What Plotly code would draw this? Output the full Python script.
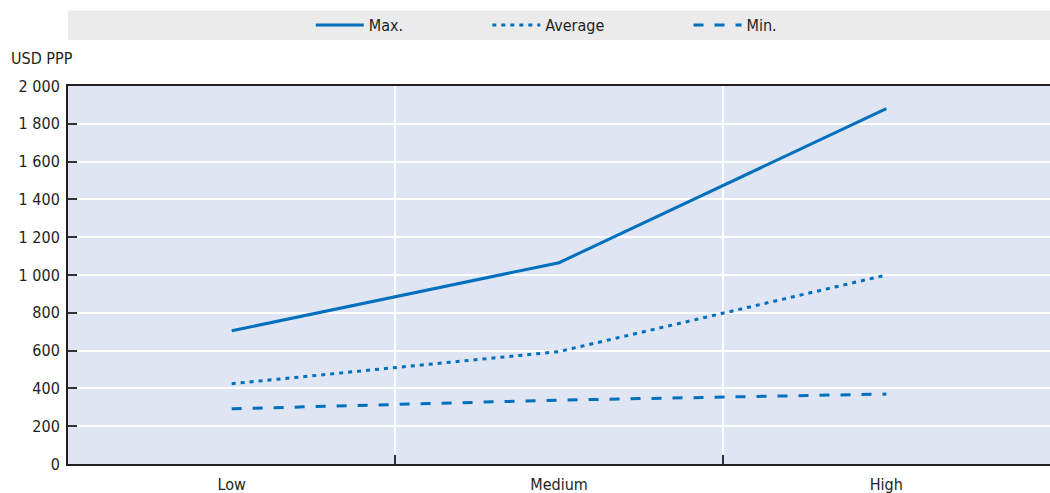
import plotly.graph_objects as go

categories = ["Low", "Medium", "High"]
max_vals = [705, 1065, 1880]
avg_vals = [425, 595, 1000]
min_vals = [292, 338, 370]
series_names = ["Max.", "Average", "Min."]

FONT = "DejaVu Sans Condensed, Liberation Sans Narrow, Arial Narrow, Roboto"
BLUE = "#0070BD"
TXT = "#231F20"
PAD = "\u2003" * 5 + "\u2002"  # spacing between legend entries

fig = go.Figure()
fig.add_trace(go.Scatter(x=categories, y=max_vals, name=series_names[0] + PAD, mode="lines",
                         line=dict(color=BLUE, width=3)))
fig.add_trace(go.Scatter(x=categories, y=avg_vals, name=series_names[1] + PAD, mode="lines",
                         line=dict(color=BLUE, width=3, dash="4px,5px")))
fig.add_trace(go.Scatter(x=categories, y=min_vals, name=series_names[2], mode="lines",
                         line=dict(color=BLUE, width=3, dash="10px,11px")))

fig.add_shape(type="rect", xref="paper", yref="paper", x0=0, x1=1, y0=1.122, y1=1.2,
              fillcolor="#EBEBEB", line=dict(width=0), layer="below")

fig.add_annotation(text="USD PPP", xref="paper", yref="paper", x=-0.06, y=1.042,
                   xanchor="left", yanchor="bottom", showarrow=False,
                   font=dict(family=FONT, size=16, color=TXT))

fig.update_layout(
    width=1050, height=493,
    margin=dict(l=68, r=0, t=86, b=29, autoexpand=False),
    paper_bgcolor="white", plot_bgcolor="#DFE5F3",
    separators=". ",
    font=dict(family=FONT, size=16, color=TXT),
    showlegend=True,
    legend=dict(orientation="h", xref="container", yref="container",
                x=0.296, xanchor="left", y=0.949, yanchor="middle",
                bgcolor="rgba(0,0,0,0)", font=dict(family=FONT, size=16, color=TXT),
                itemwidth=48),
    xaxis=dict(type="category", range=[-0.5, 2.5], tickson="boundaries",
               showgrid=True, gridcolor="white", gridwidth=1.5,
               ticks="inside", ticklen=9, tickcolor="#333333", tickwidth=1.5,
               showline=True, linecolor="#231F20", linewidth=2, mirror=True,
               automargin=False, ticklabelstandoff=5,
               tickfont=dict(family=FONT, size=16, color=TXT)),
    yaxis=dict(range=[0, 2000], dtick=200, tickformat=",",
               showgrid=True, gridcolor="white", gridwidth=1.5,
               ticks="inside", ticklen=9, tickcolor="#333333", tickwidth=1.5,
               showline=True, linecolor="#231F20", linewidth=2,
               zeroline=False, automargin=False, ticklabelstandoff=3,
               tickfont=dict(family=FONT, size=16, color=TXT)),
)

fig.write_html("out.html", config={"displayModeBar": False},
               post_script="document.body.style.margin='0';document.body.style.overflow='hidden';")
